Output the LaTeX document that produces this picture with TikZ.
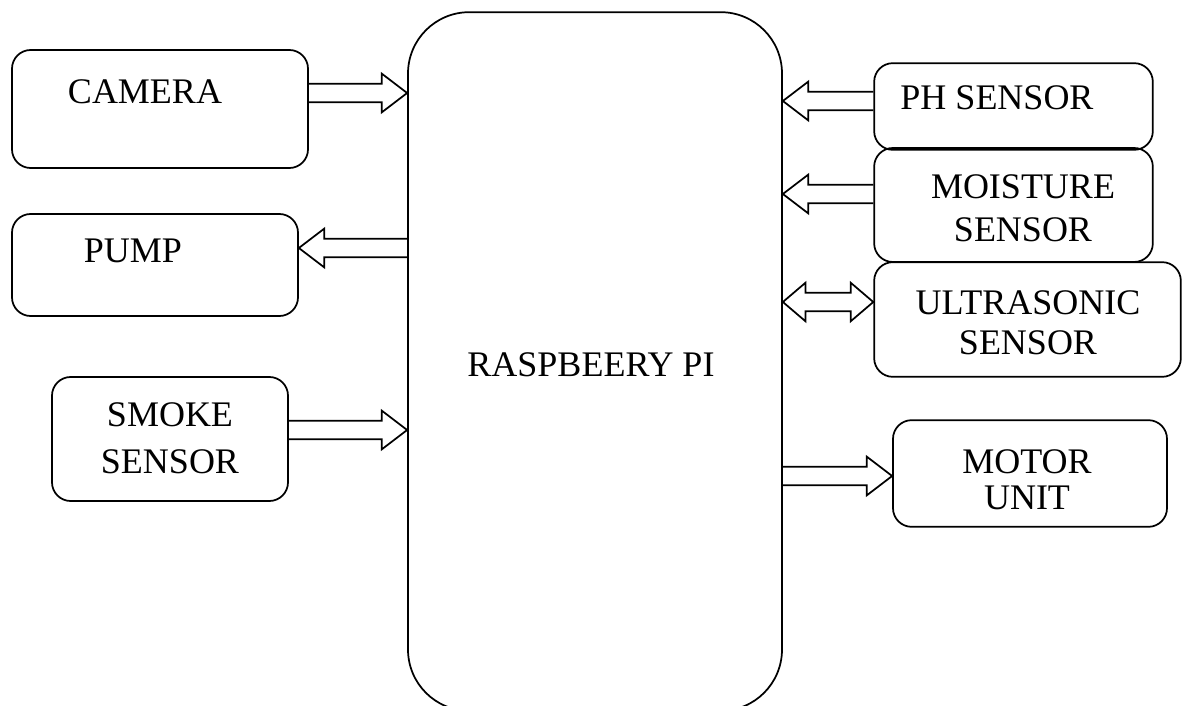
\documentclass[tikz,border=0pt]{standalone}
\usepackage{fontspec}
\setmainfont{Liberation Serif}
\usetikzlibrary{calc}

\begin{document}
\begin{tikzpicture}[x=0.75pt, y=-0.75pt,
  box/.style={draw, line width=1.3pt, rounded corners=14pt},
  lbl/.style={font=\fontsize{27}{32}\selectfont, align=center, inner sep=0pt},
  blockarrow/.style={draw, line width=1.3pt, line join=miter, to path={
    let \p1=(\tikztostart), \p2=(\tikztotarget), \p3=($(\tikztotarget)!19pt!(\tikztostart)$) in
    (\x1,\y1+7pt) -- (\x3,\y1+7pt) -- (\x3,\y1+14.5pt) -- (\x2,\y2)
    -- (\x3,\y1-14.5pt) -- (\x3,\y1-7pt) -- (\x1,\y1-7pt)}},
  blockarrows/.style={draw, line width=1.3pt, line join=miter, to path={
    let \p1=(\tikztostart), \p2=(\tikztotarget), \p3=($(\tikztotarget)!17pt!(\tikztostart)$),
    \p4=($(\tikztostart)!17pt!(\tikztotarget)$) in
    (\x1,\y1) -- (\x4,\y1+14.5pt) -- (\x4,\y1+7pt) -- (\x3,\y1+7pt) -- (\x3,\y1+14.5pt) -- (\x2,\y2)
    -- (\x3,\y1-14.5pt) -- (\x3,\y1-7pt) -- (\x4,\y1-7pt) -- (\x4,\y1-14.5pt) -- cycle}}]
\useasboundingbox (0,0) rectangle (1183,706);
\node[box, rounded corners=46pt, minimum width=280.5pt, minimum height=524pt] (pi) at (595,361.5) {};
\node[lbl] (pitxt) at (591,365) {RASPBEERY PI};
\node[box, minimum width=222pt, minimum height=88.5pt] (cam) at (160,109) {};
\node[lbl] (camtxt) at (145,92) {CAMERA};
\node[box, minimum width=214.5pt, minimum height=76.5pt] (pump) at (155,265) {};
\node[lbl] (pumptxt) at (133,251) {PUMP};
\node[box, minimum width=177pt, minimum height=93pt] (smoke) at (170,439) {};
\node[lbl, font=\fontsize{27}{35}\selectfont] (smoketxt) at (170,438) {SMOKE\\SENSOR};
\node[box, minimum width=209pt, minimum height=65pt] (ph) at (1013.5,106.5) {};
\node[lbl] (phtxt) at (997,98) {PH SENSOR};
\node[box, minimum width=209pt, minimum height=85.5pt] (moist) at (1013.5,205) {};
\node[lbl] (moisttxt) at (1023,208) {MOISTURE\\SENSOR};
\node[box, minimum width=230pt, minimum height=86pt] (ultra) at (1027.5,319.5) {};
\node[lbl, font=\fontsize{27}{30}\selectfont] (ultratxt) at (1028,323) {ULTRASONIC\\SENSOR};
\node[box, minimum width=205.5pt, minimum height=80pt] (motor) at (1030,473.5) {};
\node[lbl, font=\fontsize{27}{27}\selectfont] (motortxt) at (1027,480) {MOTOR\\UNIT};
\draw[blockarrow] (cam.east |- 0,93) to (pi.west |- 0,93);
\draw[blockarrow] (pi.west |- 0,248) to (pump.east |- 0,248);
\draw[blockarrow] (smoke.east |- 0,430) to (pi.west |- 0,430);
\draw[blockarrow] (ph.west |- 0,101) to (pi.east |- 0,101);
\draw[blockarrow] (moist.west |- 0,194) to (pi.east |- 0,194);
\draw[blockarrows] (pi.east |- 0,302) to (ultra.west |- 0,302);
\draw[blockarrow] (pi.east |- 0,476) to (motor.west |- 0,476);
\end{tikzpicture}
\end{document}
